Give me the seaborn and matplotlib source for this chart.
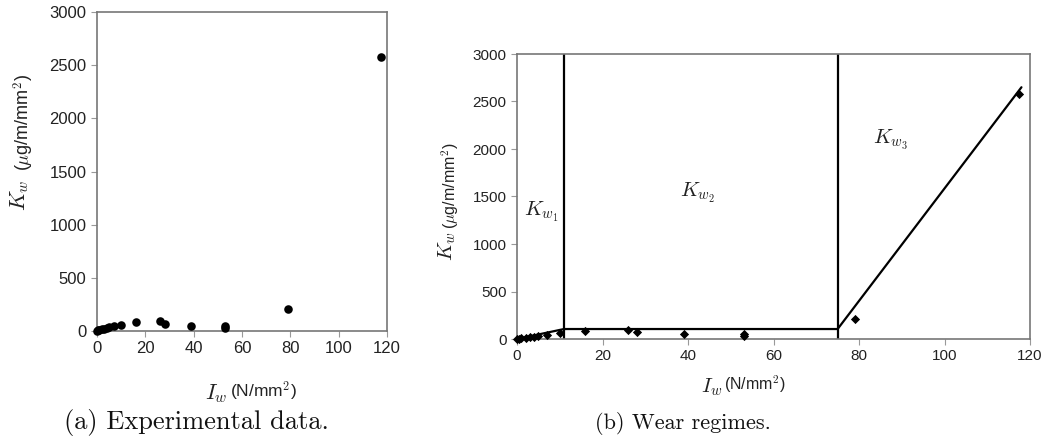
import matplotlib
matplotlib.use("Agg")
import matplotlib.pyplot as plt
import seaborn as sns
import numpy as np
import pandas as pd

# Experimental data
iw = [0.0, 0.5, 1.0, 2.0, 3.0, 4.0, 5.0, 7.0, 10.0, 16.0, 26.0, 28.0, 39.0, 53.0, 53.0, 79.0, 117.5]
kw = [0, 5, 10, 15, 20, 25, 35, 45, 60, 80, 90, 70, 50, 50, 30, 210, 2580]

# Wear regime model (piecewise fit)
fit_x = [0, 11, 75, 118]
fit_y = [0, 105, 105, 2650]
boundaries = [11, 75]
regime_labels = [r"$K_{w_1}$", r"$K_{w_2}$", r"$K_{w_3}$"]
regime_lx = [5.7, 42.3, 87.3]
regime_ly = [1337, 1537, 2095]

xticks = [0, 20, 40, 60, 80, 100, 120]
yticks = [0, 500, 1000, 1500, 2000, 2500, 3000]

sns.set_theme(style="white")
plt.rcParams['font.family'] = ['Liberation Sans', 'DejaVu Sans']
plt.rcParams['mathtext.fontset'] = 'cm'

df = pd.DataFrame({"Iw": iw, "Kw": kw})

W, H = 1057, 448
fig = plt.figure(figsize=(W / 100, H / 100), dpi=100)
axa = fig.add_axes([97/W, 1-331/H, (387-97)/W, (331-12)/H])
axb = fig.add_axes([517/W, 1-339/H, (1030-517)/W, (339-54)/H])

# Panel (a)
sns.scatterplot(data=df, x="Iw", y="Kw", ax=axa, color="black", s=38,
                marker="o", edgecolor="black", linewidth=0, clip_on=False, zorder=3)

# Panel (b)
sns.scatterplot(data=df, x="Iw", y="Kw", ax=axb, color="black", s=22,
                marker="D", edgecolor="black", linewidth=0, clip_on=False, zorder=3)
axb.plot(fit_x, fit_y, color="black", lw=1.6, zorder=2)
for b in boundaries:
    axb.axvline(b, color="black", lw=1.6, zorder=2)
for lab, lx, ly in zip(regime_labels, regime_lx, regime_ly):
    axb.text(lx, ly, lab, ha="center", va="center", fontsize=15, color="#222222")

for ax in (axa, axb):
    ax.set_xlim(0, 120)
    ax.set_ylim(0, 3000)
    ax.set_xticks(xticks)
    ax.set_yticks(yticks)
    ax.set_xlabel("")
    ax.set_ylabel("")
    ax.tick_params(axis="both", labelsize=11, colors="#222222", length=4,
                   width=0.8, direction="out", bottom=True, left=True)
    ax.tick_params(axis="both", color="#999999")
    for sp in ax.spines.values():
        sp.set_color("#777777")
        sp.set_linewidth(1.2)

axa.tick_params(axis="both", labelsize=12)

def px(x, y):
    return x / W, 1 - y / H

# y labels: K_w (serif italic) + units (sans)
fig.text(*px(20, 211), r"$K_w$", rotation=90, ha="center", va="bottom", fontsize=16, color="#222222")
fig.text(*px(24, 171), r"($\mu$g/m/mm$^2$)", rotation=90, ha="center", va="bottom", fontsize=13, color="#222222")
fig.text(*px(447, 261), r"$K_w$", rotation=90, ha="center", va="bottom", fontsize=15, color="#222222")
fig.text(*px(450, 229), r"($\mu$g/m/mm$^2$)", rotation=90, ha="center", va="bottom", fontsize=11.5, color="#222222")

# x labels
fig.text(*px(227, 399), r"$I_w$", ha="right", va="baseline", fontsize=16, color="#222222")
fig.text(*px(230, 397), r"(N/mm$^2$)", ha="left", va="baseline", fontsize=12.5, color="#222222")
fig.text(*px(722, 392), r"$I_w$", ha="right", va="baseline", fontsize=15, color="#222222")
fig.text(*px(724, 390), r"(N/mm$^2$)", ha="left", va="baseline", fontsize=11.5, color="#222222")

# captions
fig.text(*px(196, 422), "(a) Experimental data.", ha="center", va="center",
         fontsize=19, family=["cmr10", "DejaVu Serif"], color="#111111")
fig.text(*px(683, 423), "(b) Wear regimes.", ha="center", va="center",
         fontsize=16, family=["cmr10", "DejaVu Serif"], color="#111111")

fig.savefig("out.png", dpi=100)
